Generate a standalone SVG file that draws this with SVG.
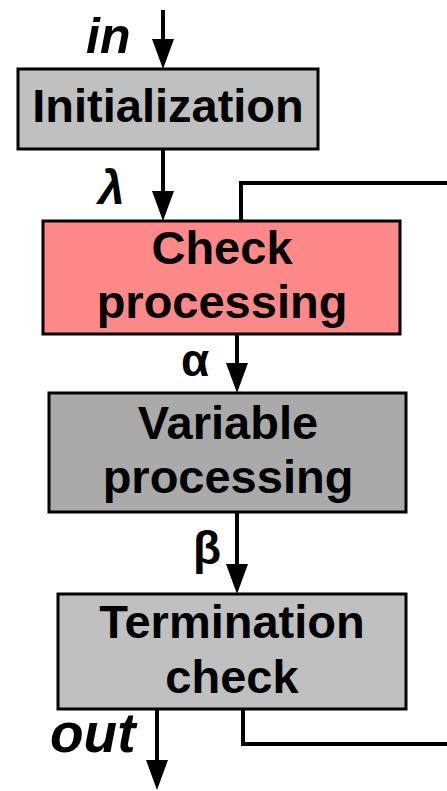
<svg xmlns="http://www.w3.org/2000/svg" width="447" height="791" viewBox="0 0 447 791">
  <defs>
    <!-- arrowhead drawn along +x; tip sits 20px past the end of the line -->
    <marker id="arrow" markerUnits="userSpaceOnUse" markerWidth="30" markerHeight="22" viewBox="0 0 30 22" refX="10" refY="11" orient="auto">
      <polygon points="0,0 30,11 0,22" fill="#000"/>
    </marker>
  </defs>
  <style>
    .box { stroke: #000; stroke-width: 3; }
    .lbl { font-family: "Liberation Sans", Arial, sans-serif; font-weight: bold; font-size: 47px; fill: #000; text-anchor: middle; }
    .sym { font-family: "Liberation Sans", Arial, sans-serif; font-weight: bold; fill: #000; }
    .wire { stroke: #000; stroke-width: 4; fill: none; }
  </style>
  <rect width="447" height="791" fill="#fff"/>

  <g id="connectors">
    <line class="wire" x1="163" y1="10" x2="163" y2="49" marker-end="url(#arrow)"/>
    <line class="wire" x1="163" y1="149" x2="163" y2="201" marker-end="url(#arrow)"/>
    <line class="wire" x1="237" y1="334" x2="237" y2="373" marker-end="url(#arrow)"/>
    <line class="wire" x1="237" y1="512" x2="237" y2="574" marker-end="url(#arrow)"/>
    <line class="wire" x1="157" y1="709" x2="157" y2="770" marker-end="url(#arrow)"/>
    <!-- loop back from the termination check to the check stage -->
    <polyline class="wire" points="241,221 241,183 447,183"/>
    <polyline class="wire" points="243,709 243,744 447,744"/>
  </g>

  <g id="edge-labels">
    <text class="sym" x="86" y="53" font-size="50" font-style="italic">in</text>
    <text class="sym" x="98" y="204" font-size="48" font-style="italic">λ</text>
    <text class="sym" x="181" y="376" font-size="46">α</text>
    <text class="sym" x="193" y="564" font-size="46">β</text>
    <text class="sym" x="50" y="752" font-size="55" font-style="italic">out</text>
  </g>

  <g id="initialization">
    <rect class="box" x="18" y="69" width="300" height="80" fill="#C0C0C0"/>
    <text class="lbl" x="168" y="122">Initialization</text>
  </g>

  <g id="check-processing">
    <rect class="box" x="43" y="221" width="357" height="113" fill="#FF8888"/>
    <text class="lbl" x="222" y="264">Check</text>
    <text class="lbl" x="222" y="318">processing</text>
  </g>

  <g id="variable-processing">
    <rect class="box" x="49" y="393" width="357" height="119" fill="#AAAAAA"/>
    <text class="lbl" x="228" y="439">Variable</text>
    <text class="lbl" x="228" y="493">processing</text>
  </g>

  <g id="termination-check">
    <rect class="box" x="58" y="594" width="348" height="115" fill="#C0C0C0"/>
    <text class="lbl" x="232" y="638">Termination</text>
    <text class="lbl" x="232" y="693">check</text>
  </g>
</svg>
